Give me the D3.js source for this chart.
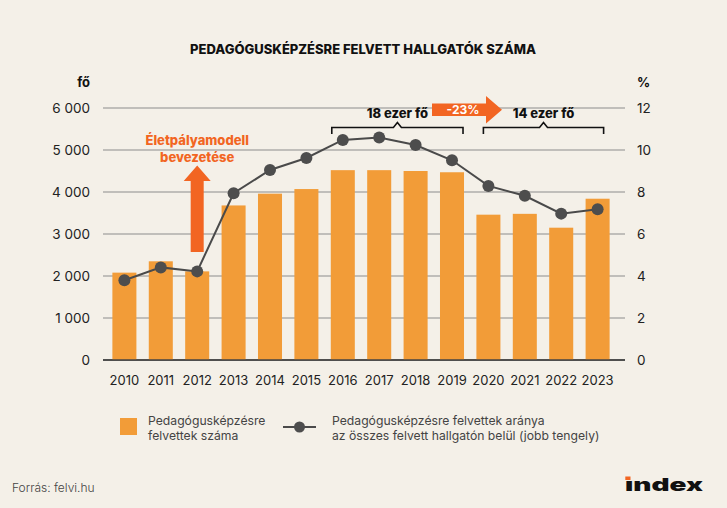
<!DOCTYPE html>
<html><head><meta charset="utf-8">
<script src="https://cdn.jsdelivr.net/npm/d3@7"></script>
<style>
html,body{margin:0;padding:0;background:#f4f0e8;}
svg{display:block;}
text{font-family:Inter,"Open Sans",sans-serif;}
</style></head><body>
<svg id="c" width="727" height="508"></svg>
<script>
const years = ["2010","2011","2012","2013","2014","2015","2016","2017","2018","2019","2020","2021","2022","2023"];
const admitted = [2080,2350,2110,3680,3960,4070,4520,4520,4500,4470,3460,3480,3150,3840];
const sharePct = [3.8,4.41,4.22,7.94,9.05,9.62,10.48,10.59,10.24,9.51,8.29,7.82,6.97,7.18];
const leftTicks = [0,1000,2000,3000,4000,5000,6000];
const rightTicks = [0,2,4,6,8,10,12];
const titleText = "PEDAGÓGUSKÉPZÉSRE FELVETT HALLGATÓK SZÁMA";
const annotText = ["Életpályamodell","bevezetése"];
const bracketLabels = ["18 ezer fő","14 ezer fő"];
const changeLabel = "-23%";
const legendBar = ["Pedagógusképzésre","felvettek száma"];
const legendLine = ["Pedagógusképzésre felvettek aránya","az összes felvett hallgatón belül (jobb tengely)"];
const sourceText = "Forrás: felvi.hu";

const svg = d3.select("#c");
const W=727,H=508;
svg.append("rect").attr("width",W).attr("height",H).attr("fill","#f4f0e8");

const gx0=103, gx1=625, yTop=108, yBot=360;
const x = d3.scaleBand().domain(years).range([100,622]).paddingInner(0.34).paddingOuter(0.34);
const yL = d3.scaleLinear().domain([0,6000]).range([yBot,yTop]);
const yR = d3.scaleLinear().domain([0,12]).range([yBot,yTop]);
const fmt = d => d3.format(",")(d).replace(/,/g," ");

// title
svg.append("text").attr("x",363).attr("y",54).attr("text-anchor","middle")
  .attr("font-size",13).attr("font-weight",800).attr("fill","#111").text(titleText);

// gridlines
svg.append("g").selectAll("line").data(leftTicks).join("line")
  .attr("x1",gx0).attr("x2",gx1).attr("y1",d=>yL(d)).attr("y2",d=>yL(d))
  .attr("stroke",d=>d===0?"#444":"#8c8c8c").attr("stroke-width",d=>d===0?1.6:1);

// left axis labels
svg.append("g").selectAll("text").data(leftTicks).join("text")
  .attr("x",90).attr("y",d=>yL(d)).attr("dy","0.35em").attr("text-anchor","end")
  .attr("font-size",13.5).attr("fill","#222").text(fmt);
svg.append("text").attr("x",90).attr("y",87).attr("text-anchor","end").attr("font-size",13)
  .attr("font-weight",700).attr("fill","#111").text("fő");
// right axis labels
svg.append("g").selectAll("text").data(rightTicks).join("text")
  .attr("x",637).attr("y",d=>yR(d)).attr("dy","0.35em").attr("text-anchor","start")
  .attr("font-size",13.5).attr("fill","#222").text(d=>d);
svg.append("text").attr("x",637).attr("y",87).attr("text-anchor","start").attr("font-size",13)
  .attr("font-weight",700).attr("fill","#111").text("%");

// bars
svg.append("g").selectAll("rect").data(years).join("rect")
  .attr("x",d=>x(d)).attr("width",x.bandwidth())
  .attr("y",(d,i)=>yL(admitted[i])).attr("height",(d,i)=>yBot-yL(admitted[i]))
  .attr("fill","#f29c38");
svg.append("line").attr("x1",gx0).attr("x2",gx1).attr("y1",yBot).attr("y2",yBot).attr("stroke","#444").attr("stroke-width",1.6);

// x labels
svg.append("g").selectAll("text").data(years).join("text")
  .attr("x",d=>x(d)+x.bandwidth()/2).attr("y",380).attr("dy","0.35em").attr("text-anchor","middle")
  .attr("font-size",13).attr("fill","#222").text(d=>d);

// line
const cx = d=>x(d)+x.bandwidth()/2;
const line = d3.line().x((d,i)=>cx(years[i])).y(d=>yR(d));
svg.append("path").datum(sharePct).attr("d",line).attr("fill","none").attr("stroke","#4a4a4a").attr("stroke-width",2);
svg.append("g").selectAll("circle").data(sharePct).join("circle")
  .attr("cx",(d,i)=>cx(years[i])).attr("cy",d=>yR(d)).attr("r",6).attr("fill","#4d4d4d");

// annotation arrow
const ax = cx("2012");
const orange = "#f26522";
svg.append("path").attr("d",`M${ax-6.5},252 L${ax-6.5},181 L${ax-13.5},181 L${ax},165.5 L${ax+13.5},181 L${ax+6.5},181 L${ax+6.5},252 Z`).attr("fill",orange);
svg.append("g").selectAll("text").data(annotText).join("text")
  .attr("x",ax).attr("y",(d,i)=>145+i*17).attr("text-anchor","middle")
  .attr("font-size",13).attr("font-weight",800).attr("fill",orange).text(d=>d);

// brackets
function bracket(x0,x1,label){
  const m=(x0+x1)/2, yb=127.5;
  svg.append("path").attr("d",`M${x0},134 L${x0},${yb} L${m-4},${yb} L${m},122.5 L${m+4},${yb} L${x1},${yb} L${x1},134`)
    .attr("fill","none").attr("stroke","#111").attr("stroke-width",1.6);
  svg.append("text").attr("x",m).attr("y",118).attr("text-anchor","middle").attr("font-size",13)
    .attr("font-weight",800).attr("fill","#111").text(label);
}
bracket(x("2016")+1, x("2019")+x.bandwidth()-1, bracketLabels[0]);
bracket(x("2020")+7, x("2023")+x.bandwidth()-6, bracketLabels[1]);

// -23% arrow
svg.append("path").attr("d","M432,103.5 L486,103.5 L486,96 L502,109.7 L486,123.5 L486,116 L432,116 Z").attr("fill",orange);
svg.append("text").attr("x",463).attr("y",110).attr("dy","0.35em").attr("text-anchor","middle")
  .attr("font-size",12).attr("font-weight",700).attr("fill","#fff").text(changeLabel);

// legend
function multiline(xp, lines){
  svg.append("g").selectAll("text").data(lines).join("text")
    .attr("x",xp).attr("y",(d,i)=>420.8+i*14.6).attr("dy","0.35em")
    .attr("font-size",12.2).attr("fill","#444").text(d=>d);
}
svg.append("rect").attr("x",120).attr("y",418).attr("width",17).attr("height",17).attr("fill","#f29c38");
multiline(148, legendBar);
svg.append("line").attr("x1",283).attr("x2",316).attr("y1",427).attr("y2",427).attr("stroke","#4a4a4a").attr("stroke-width",2);
svg.append("circle").attr("cx",299.5).attr("cy",427).attr("r",5.5).attr("fill","#4d4d4d");
multiline(332, legendLine);

// footer
svg.append("text").attr("x",12).attr("y",488).attr("dy","0.35em").attr("font-size",12).attr("font-weight",300).attr("fill","#444").text(sourceText);
svg.append("text").attr("x",625).attr("y",491).attr("font-size",17.5).attr("font-weight",900).attr("fill","#111")
  .attr("textLength",78).attr("lengthAdjust","spacingAndGlyphs").text("ındex");
svg.append("rect").attr("x",625.3).attr("y",476.5).attr("width",5.2).attr("height",3.5).attr("fill",orange);
</script>
</body></html>
